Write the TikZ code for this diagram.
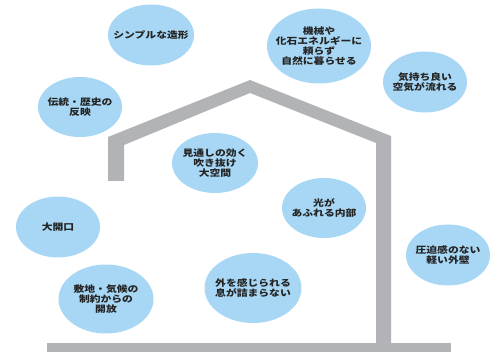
\documentclass[tikz,border=0pt]{standalone}
\usepackage{fontspec}
\newfontfamily\jp[FakeStretch=1.2]{Noto Sans CJK JP}
\usetikzlibrary{shapes}
\definecolor{wallgray}{RGB}{178,179,183}
\definecolor{bubbleblue}{RGB}{167,215,244}
\definecolor{textdark}{RGB}{35,35,35}

\begin{document}
\begin{tikzpicture}[x = 1pt, y = -1pt, font = \jp\bfseries]
	\tikzstyle{wallStyle} = [fill = wallgray]
	\tikzstyle{bubbleStyle} = [shape = ellipse, fill = bubbleblue, inner sep = 0pt]
	\tikzstyle{labelStyle} = [align = center, text = textdark, inner sep = 0pt, font = \jp\bfseries\fontsize{9}{10.2}\selectfont]
	\useasboundingbox (0, 0) rectangle (502, 352);
	% house outline
	\fill[wallStyle] (108, 181) -- (108, 137) -- (250, 80) -- (391, 136) -- (391, 343) -- (376, 343)
		-- (376, 143) -- (250, 93) -- (124, 145) -- (124, 181) -- cycle;
	\fill[wallStyle] (47, 343) rectangle (451, 352);
	% bubbles
	\node[bubbleStyle, minimum width = 86, minimum height = 61] (b0) at (151, 35) {};
	\node[bubbleStyle, minimum width = 84, minimum height = 60] (b1) at (80, 107) {};
	\node[bubbleStyle, minimum width = 86, minimum height = 60] (b2) at (215, 163) {};
	\node[bubbleStyle, minimum width = 104, minimum height = 75] (b3) at (319, 46) {};
	\node[bubbleStyle, minimum width = 84, minimum height = 61] (b4) at (425, 82) {};
	\node[bubbleStyle, minimum width = 84, minimum height = 61] (b5) at (58, 227) {};
	\node[bubbleStyle, minimum width = 95, minimum height = 69] (b6) at (106, 299) {};
	\node[bubbleStyle, minimum width = 97, minimum height = 70] (b7) at (253, 288) {};
	\node[bubbleStyle, minimum width = 84, minimum height = 60] (b8) at (324, 208) {};
	\node[bubbleStyle, minimum width = 84, minimum height = 61] (b9) at (448, 255) {};
	% labels
	\node[labelStyle] (t0) at (b0) {シンプルな造形};
	\node[labelStyle] (t1) at (b1) {伝統・歴史の\\反映};
	\node[labelStyle] (t2) at (b2) {見通しの効く\\吹き抜け\\大空間};
	\node[labelStyle] (t3) at (b3) {機械や\\化石エネルギーに\\頼らず\\自然に暮らせる};
	\node[labelStyle] (t4) at (b4) {気持ち良い\\空気が流れる};
	\node[labelStyle] (t5) at (b5) {大開口};
	\node[labelStyle] (t6) at (b6) {敷地・気候の\\制約からの\\開放};
	\node[labelStyle] (t7) at (b7) {外を感じられる\\息が詰まらない};
	\node[labelStyle] (t8) at (b8) {光が\\あふれる内部};
	\node[labelStyle] (t9) at (b9) {圧迫感のない\\軽い外壁};
\end{tikzpicture}
\end{document}
